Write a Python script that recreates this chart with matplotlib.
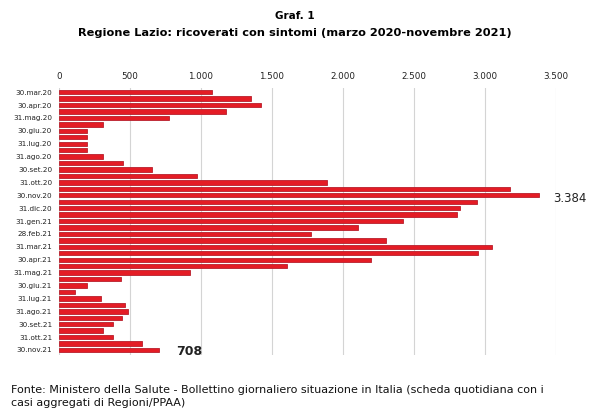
import matplotlib.pyplot as plt
from matplotlib.ticker import FuncFormatter

# Lazio - hospitalised with symptoms, fortnightly readings
dates = [
    "30.mar.20", "15.apr.20", "30.apr.20", "15.mag.20", "31.mag.20", "15.giu.20",
    "30.giu.20", "15.lug.20", "31.lug.20", "15.ago.20", "31.ago.20", "15.set.20",
    "30.set.20", "15.ott.20", "31.ott.20", "15.nov.20", "30.nov.20", "15.dic.20",
    "31.dic.20", "15.gen.21", "31.gen.21", "15.feb.21", "28.feb.21", "15.mar.21",
    "31.mar.21", "15.apr.21", "30.apr.21", "15.mag.21", "31.mag.21", "15.giu.21",
    "30.giu.21", "15.lug.21", "31.lug.21", "15.ago.21", "31.ago.21", "15.set.21",
    "30.set.21", "15.ott.21", "31.ott.21", "15.nov.21", "30.nov.21",
]
ricoverati = [
    1080, 1355, 1425, 1180, 772, 308, 196, 196, 196, 196, 308, 448,
    658, 975, 1889, 3178, 3384, 2945, 2826, 2804, 2424, 2107, 1776, 2304,
    3051, 2953, 2199, 1607, 923, 434, 197, 112, 294, 462, 486, 441,
    381, 308, 381, 583, 708,
]
# every second date gets a label on the axis
tick_labels = [d for i, d in enumerate(dates) if i % 2 == 0]
x_ticks = [0, 500, 1000, 1500, 2000, 2500, 3000, 3500]

fig = plt.figure(figsize=(5.9, 4.12), dpi=100)
ax = fig.add_axes([0.1, 0.138, 0.842, 0.648])

pos = list(range(len(dates)))
ax.barh(pos, ricoverati, height=0.68, color="#e41c25",
        edgecolor="#b81f2c", linewidth=0.6, zorder=3)

ax.set_xlim(0, 3500)
ax.set_ylim(len(dates) - 0.2, -0.62)
ax.set_xticks(x_ticks)
ax.xaxis.set_major_formatter(FuncFormatter(lambda v, p: f"{int(v):,}".replace(",", ".")))
ax.xaxis.tick_top()
ax.tick_params(axis="x", length=0, pad=5, labelsize=6.3, colors="#222222")
ax.set_yticks(pos[::2])
ax.set_yticklabels(tick_labels)
ax.tick_params(axis="y", length=0, pad=5, labelsize=5.2, colors="#222222")
ax.grid(axis="x", color="#d4d4d4", linewidth=0.8, zorder=0)
for s in ax.spines.values():
    s.set_visible(False)

# value labels for peak and last reading
i_max = ricoverati.index(max(ricoverati))
ax.text(ricoverati[i_max] + 95, i_max + 0.5, f"{ricoverati[i_max]:,}".replace(",", "."),
        fontsize=8.5, va="center", ha="left", color="#222222", clip_on=False)
ax.text(ricoverati[-1] + 120, len(dates) - 0.7, str(ricoverati[-1]),
        fontsize=9, va="center", ha="left", color="#222222", fontweight="bold")

fig.text(0.5, 0.962, "Graf. 1", ha="center", va="center", fontsize=7.5, fontweight="bold")
fig.text(0.5, 0.92, "Regione Lazio: ricoverati con sintomi (marzo 2020-novembre 2021)",
         ha="center", va="center", fontsize=8.2, fontweight="bold")

fig.text(0.018, 0.038, "Fonte: Ministero della Salute - Bollettino giornaliero situazione in Italia "
         "(scheda quotidiana con i\ncasi aggregati di Regioni/PPAA)",
         ha="left", va="center", fontsize=8.0, linespacing=1.3, color="#111111")

fig.savefig("out.png", dpi=100)
